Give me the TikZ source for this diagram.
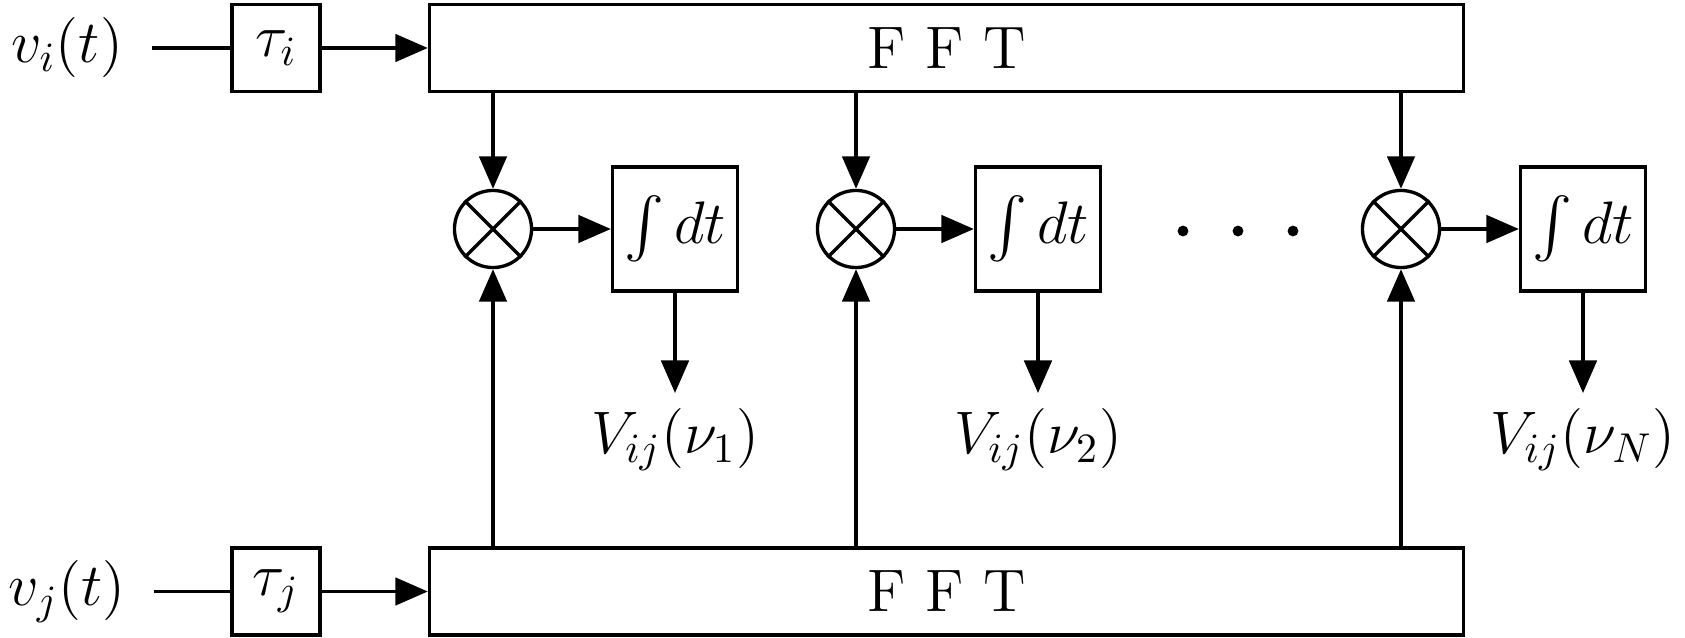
\documentclass[tikz,border=0pt]{standalone}
\usepackage{amsmath}
\usetikzlibrary{arrows.meta}
\begin{document}
\begin{tikzpicture}[x=0.24pt,y=-0.24pt, line width=0.8pt, font=\Large,
  box/.style={draw, inner sep=0pt},
  delay/.style={box, minimum width=21.1pt, minimum height=20.9pt},
  fft/.style={box, minimum width=248.2pt, minimum height=20.9pt},
  integ/.style={box, minimum width=30pt, minimum height=29.8pt},
  mult/.style={draw, circle, inner sep=0pt, minimum size=18.5pt},
  sig/.style={-{Triangle[length=7.8pt,width=6.6pt]}},
  dotmark/.style={circle, fill, inner sep=0pt, minimum size=2.6pt},
  input/.style={inner xsep=6.5pt}]
\useasboundingbox (0,0) rectangle (1685,638);

% inputs, delays and FFT blocks
\node[input] (vi) at (67,48) {$v_i(t)$};
\node[delay] (ti) at (276,48) {$\tau_i$};
\node[fft] (ffti) at (946.5,48) {F F T};
\node[input] (vj) at (67,591.5) {$v_j(t)$};
\node[delay] (tj) at (276,591.5) {$\tau_j$};
\node[fft] (fftj) at (946.5,591.5) {F F T};

\draw (vi.east) -- (ti.west);
\draw[sig] (ti.east) -- (ffti.west);
\draw (vj.east) -- (tj.west);
\draw[sig] (tj.east) -- (fftj.west);

% per-channel multiply and integrate
\foreach \k/\x/\lab in {1/493/1, 2/856/2, 3/1401/N} {
  \node[mult] (m\k) at (\x,229) {};
  \draw (m\k.north east) -- (m\k.south west)
        (m\k.north west) -- (m\k.south east);
  \node[integ] (s\k) at (\x+182,229) {$\int dt$};
  \node[anchor=north] (o\k) at (\x+182,393) {$V_{ij}(\nu_\lab)$};
  \draw[sig] (ffti.south -| m\k) -- (m\k.north);
  \draw[sig] (fftj.north -| m\k) -- (m\k.south);
  \draw[sig] (m\k) -- (s\k);
  \draw[sig] (s\k) -- (o\k);
}

% ellipsis between channels
\node[dotmark] (d1) at (1183,231) {};
\node[dotmark] (d2) at (1238,231) {};
\node[dotmark] (d3) at (1293,231) {};
\end{tikzpicture}
\end{document}
